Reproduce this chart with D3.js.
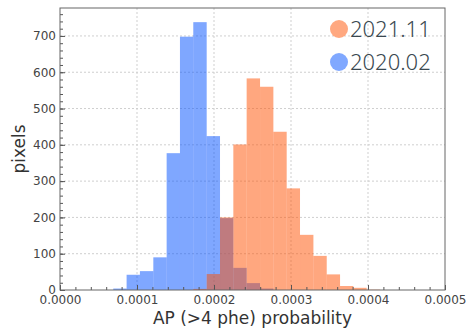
<!DOCTYPE html>
<html>
<head>
<meta charset="utf-8">
<script src="https://cdn.jsdelivr.net/npm/d3@7"></script>
<style>
  body { margin: 0; background: #fff; }
  svg { display: block; }
</style>
</head>
<body>
<script>
// histogram bin edges (AP probability) shared by both runs
var binEdges = [0.0000692, 0.0000865, 0.0001038, 0.0001212, 0.0001385, 0.0001558, 0.0001731,
                0.0001905, 0.0002078, 0.0002251, 0.0002424, 0.0002598, 0.0002771, 0.0002944,
                0.0003117, 0.0003291, 0.0003464, 0.0003637, 0.0003810, 0.0003983, 0.0004157];
// pixel counts per bin
var feb2020 = [4, 42, 52, 90, 377, 698, 738, 424, 198, 61, 19, 4, 0, 0, 0, 0, 0, 0, 0, 0];
var nov2021 = [0, 0, 0, 0, 0, 0, 3, 44, 200, 401, 583, 560, 436, 280, 152, 94, 43, 11, 6, 1];
var seriesNames = ["2021.11", "2020.02"];
var xTicks = [0, 0.0001, 0.0002, 0.0003, 0.0004, 0.0005];
var yTicks = [0, 100, 200, 300, 400, 500, 600, 700];

var W = 471, H = 329;
var margin = {top: 8, right: 26, bottom: 39, left: 60};
var width = W - margin.left - margin.right,
    height = H - margin.top - margin.bottom;

var svg = d3.select("body").append("svg")
    .attr("width", W)
    .attr("height", H);

var g = svg.append("g")
    .attr("transform", "translate(" + margin.left + "," + margin.top + ")");

var x = d3.scaleLinear().domain([0, 0.0005]).range([0, width]);
var y = d3.scaleLinear().domain([0, 777]).range([height, 0]);

// grid
g.append("g").selectAll("line").data(xTicks.slice(1, -1)).enter().append("line")
    .attr("x1", function(d) { return x(d); })
    .attr("x2", function(d) { return x(d); })
    .attr("y1", 0).attr("y2", height)
    .attr("stroke", "#cfcfcf").attr("stroke-dasharray", "2,2");
g.append("g").selectAll("line").data(yTicks.slice(1)).enter().append("line")
    .attr("y1", function(d) { return y(d); })
    .attr("y2", function(d) { return y(d); })
    .attr("x1", 0).attr("x2", width)
    .attr("stroke", "#cfcfcf").attr("stroke-dasharray", "2,2");

// bars: blue first, orange drawn over it, both half transparent
function drawHist(counts, color) {
  g.append("g").selectAll("rect")
    .data(counts)
    .enter().append("rect")
      .attr("x", function(d, i) { return x(binEdges[i]); })
      .attr("width", function(d, i) { return x(binEdges[i + 1]) - x(binEdges[i]); })
      .attr("y", function(d) { return y(d); })
      .attr("height", function(d) { return height - y(d); })
      .attr("fill", color)
      .attr("fill-opacity", 0.5);
}
drawHist(feb2020, "#0050ff");
drawHist(nov2021, "#ff5000");

// axes with inward ticks
var fmt = d3.format(".4f");
var xAxis = g.append("g")
    .attr("transform", "translate(0," + height + ")")
    .call(d3.axisBottom(x).tickValues(xTicks).tickFormat(fmt).tickSizeInner(-5).tickSizeOuter(0).tickPadding(5));
var xMinor = g.append("g")
    .attr("transform", "translate(0," + height + ")")
    .call(d3.axisBottom(x).tickValues(d3.range(0, 0.0005, 0.00002)).tickFormat("").tickSizeInner(-3).tickSizeOuter(0));
var yAxis = g.append("g")
    .call(d3.axisLeft(y).tickValues(yTicks).tickSizeInner(-5).tickSizeOuter(0).tickPadding(4));
var yMinor = g.append("g")
    .call(d3.axisLeft(y).tickValues(d3.range(0, 777, 20)).tickFormat("").tickSizeInner(-3).tickSizeOuter(0));

[xAxis, xMinor, yAxis, yMinor].forEach(function(a) {
  a.select(".domain").remove();
  a.selectAll("line").attr("stroke", "#555");
  a.selectAll("text")
    .attr("fill", "#444")
    .attr("font-family", "DejaVu Sans")
    .attr("font-size", 12);
});

// frame
g.append("rect")
    .attr("width", width).attr("height", height)
    .attr("fill", "none").attr("stroke", "#666").attr("stroke-width", 1);

// axis labels
svg.append("text")
    .attr("x", margin.left + width / 2)
    .attr("y", 324)
    .attr("text-anchor", "middle")
    .attr("fill", "#333")
    .attr("font-family", "DejaVu Sans")
    .attr("font-size", 17)
    .text("AP (>4 phe) probability");

svg.append("text")
    .attr("transform", "translate(25," + (margin.top + height / 2) + ") rotate(-90)")
    .attr("text-anchor", "middle")
    .attr("fill", "#333")
    .attr("font-family", "DejaVu Sans")
    .attr("font-size", 17)
    .text("pixels");

// legend
var legendColors = ["#ffa880", "#80a8ff"];
var legend = svg.append("g").selectAll("g")
    .data(seriesNames)
    .enter().append("g")
    .attr("transform", function(d, i) { return "translate(339," + (29 + i * 33) + ")"; });
legend.append("circle")
    .attr("r", 9)
    .attr("fill", function(d, i) { return legendColors[i]; });
legend.append("text")
    .attr("x", 11)
    .attr("y", 8)
    .attr("fill", "#3a4850")
    .attr("font-family", "Noto Sans")
    .attr("font-weight", 300)
    .attr("font-size", 22)
    .text(function(d) { return d; });
</script>
</body>
</html>
